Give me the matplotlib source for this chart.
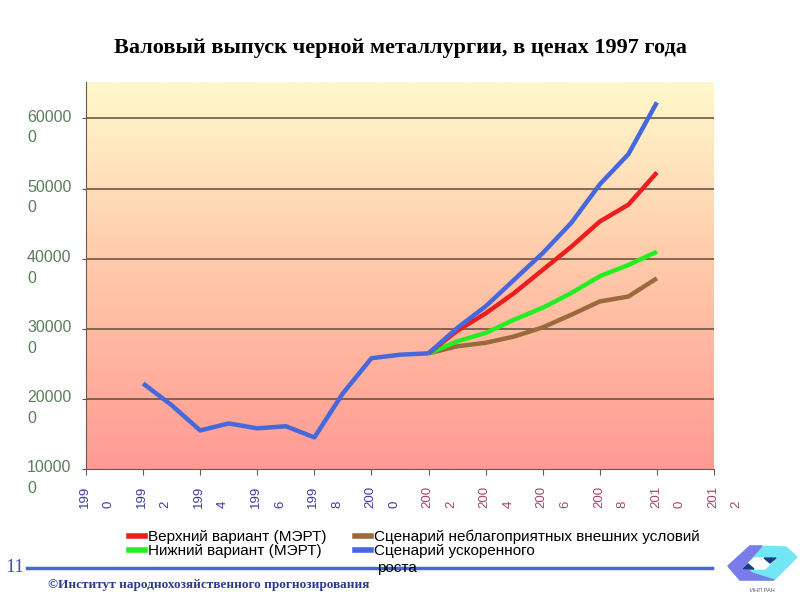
import matplotlib
matplotlib.use("Agg")
import matplotlib.pyplot as plt
import matplotlib.transforms as mtransforms
from matplotlib.colors import LinearSegmentedColormap
from matplotlib.lines import Line2D
from matplotlib.patches import Polygon
import numpy as np

# data
years_hist = [1992, 1993, 1994, 1995, 1996, 1997, 1998, 1999, 2000, 2001, 2002]
hist = [222000, 191000, 155000, 165000, 158000, 161000, 145000, 208000, 258000, 263000, 265000]

years_fc = [2002, 2003, 2004, 2005, 2006, 2007, 2008, 2009, 2010]
upper = [265000, 297000, 322000, 351000, 384000, 417000, 453000, 477000, 523000]   # red
lower = [265000, 282000, 294000, 313000, 330000, 351000, 375000, 391000, 410000]   # green
adverse = [265000, 275000, 280000, 289000, 302000, 320000, 339000, 346000, 372000]  # brown
fast = [265000, 301000, 332000, 370000, 408000, 451000, 506000, 549000, 623000]     # blue

xticks = list(range(1990, 2013, 2))
yticks = [100000, 200000, 300000, 400000, 500000, 600000]

title = "Валовый выпуск черной металлургии, в ценах 1997 года"
names = ["Верхний вариант (МЭРТ)", "Нижний вариант (МЭРТ)",
         "Сценарий неблагоприятных внешних условий", "Сценарий ускоренного"]

c_red, c_green, c_brown, c_blue = "#ee1d1d", "#22ee22", "#9b6a3c", "#4668dc"

plt.rcParams["font.family"] = ["Liberation Sans", "DejaVu Sans"]

fig = plt.figure(figsize=(8, 6), dpi=100)
ax = fig.add_axes([86/800, 1-469/600, 628/800, 387/600])

# gradient background of the plot area
cmap = LinearSegmentedColormap.from_list("bg", ["#ff9a94", "#ffc7a8", "#fff8cc"])
grad = np.linspace(0, 1, 256).reshape(-1, 1)
ax.imshow(grad, cmap=cmap, origin="lower", aspect="auto",
          extent=[0, 1, 0, 1], transform=ax.transAxes, zorder=0)

ax.set_xlim(1990, 2012)
ax.set_ylim(100000, 652000)

for y in yticks[1:]:
    ax.axhline(y, color="#5e4c3c", lw=1.1, zorder=1)

lw = 3.2
ax.plot(years_fc, adverse, color=c_brown, lw=lw, solid_joinstyle="round", solid_capstyle="butt", zorder=3)
ax.plot(years_fc, lower, color=c_green, lw=lw, solid_joinstyle="round", solid_capstyle="butt", zorder=4)
ax.plot(years_fc, upper, color=c_red, lw=lw, solid_joinstyle="round", solid_capstyle="butt", zorder=5)
ax.plot(years_fc, fast, color=c_blue, lw=lw, solid_joinstyle="round", solid_capstyle="butt", zorder=6)
ax.plot(years_hist, hist, color=c_blue, lw=lw, solid_joinstyle="round", solid_capstyle="butt", zorder=6)

for s in ["top", "right"]:
    ax.spines[s].set_visible(False)
ax.spines["left"].set_color("#6a5a50")
ax.spines["bottom"].set_color("#6a5a50")

# ticks; labels drawn as wrapped texts like the Excel original
ax.set_xticks(xticks)
ax.set_xticklabels([])
ax.tick_params(axis="x", direction="out", length=4, color="#6a5a50")
ax.set_yticks(yticks)
ax.set_yticklabels([])
ax.tick_params(axis="y", direction="out", length=3, color="#5e4c3c")

xlab_tr = ax.get_xaxis_transform() + mtransforms.ScaledTranslation(-0.07, -0.17, fig.dpi_scale_trans)
for y in xticks:
    ax.text(y, 0, str(y)[:3] + "\n" + str(y)[3], transform=xlab_tr, rotation=90,
            ha="left", va="top", multialignment="left", fontsize=9.5, linespacing=2.3,
            color="#3c3c9c" if y <= 2000 else "#a3466e", clip_on=False)

ylab_tr = ax.get_yaxis_transform() + mtransforms.ScaledTranslation(-0.59, 0.085, fig.dpi_scale_trans)
for v in yticks:
    ax.text(0, v, str(v)[:5] + "\n" + str(v)[5:], transform=ylab_tr, ha="left", va="top",
            multialignment="left", fontsize=11.5, linespacing=1.45, color="#5a7e5a", clip_on=False)

fig.text(0.5, 1-48/600, title, ha="center", va="center", fontsize=16,
         fontweight="bold", family=["Liberation Serif", "DejaVu Serif"])

# legend
handles = [Line2D([], [], color=c, lw=4) for c in [c_red, c_green, c_brown, c_blue]]
leg = fig.legend(handles, names, ncol=2, loc="upper left", bbox_to_anchor=(121/800, 1-522/600),
                 frameon=False, fontsize=11, handlelength=1.1, handletextpad=0.2,
                 labelspacing=0.0, columnspacing=1.8, borderpad=0)
fig.text(377/800, 1-568/600, "роста", ha="left", va="center", fontsize=11)

# slide footer
fig.add_artist(Line2D([27/800, 712/800], [1-568/600, 1-568/600], color="#4a66d0", lw=2.5))
fig.text(5/800, 1-568/600, "11", ha="left", va="center", fontsize=14, color="#4a55b0",
         family=["Liberation Serif", "DejaVu Serif"])
fig.text(48/800, 1-585/600, "©Институт народнохозяйственного прогнозирования", ha="left", va="center",
         fontsize=9.5, fontweight="bold", color="#2c3c8c", family=["Liberation Serif", "DejaVu Serif"])

# logo
def px(pts):
    return [(x/800, 1-y/600) for x, y in pts]

fig.add_artist(Polygon(px([(728, 566), (750, 546), (786, 547), (797, 557), (774, 580), (740, 580)]),
                       closed=True, color="#72e6f4", transform=fig.transFigure))
fig.add_artist(Polygon(px([(728, 566), (750, 546), (762, 546), (744, 566), (752, 573), (774, 580), (740, 580)]),
                       closed=True, color="#7a7cec", transform=fig.transFigure))
fig.add_artist(Polygon(px([(743, 569), (754, 558), (776, 558), (765, 569)]),
                       closed=True, color="white", transform=fig.transFigure))
fig.add_artist(Polygon(px([(743, 569), (748, 564), (754, 569)]),
                       closed=True, color="#1c3a8a", transform=fig.transFigure))
fig.add_artist(Polygon(px([(764, 558), (776, 558), (770, 563)]),
                       closed=True, color="#1c3a8a", transform=fig.transFigure))
fig.text(762/800, 1-591/600, "ИНП РАН", ha="center", va="center", fontsize=4, color="#555577")

fig.savefig("out.png", dpi=100)
